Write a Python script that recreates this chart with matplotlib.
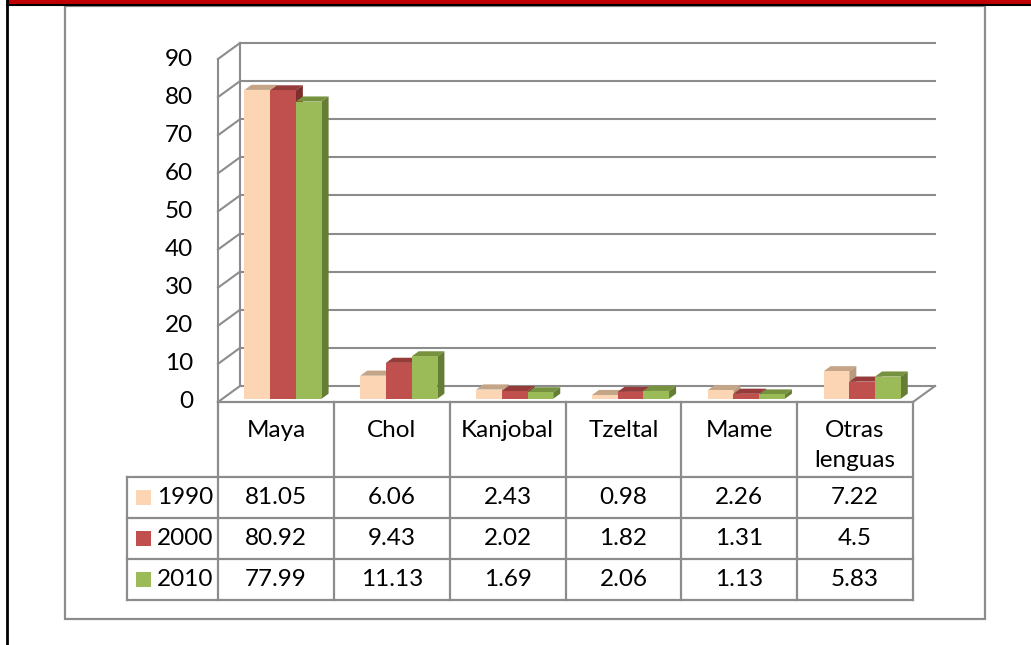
import matplotlib.pyplot as plt
from matplotlib.patches import Rectangle, Polygon

# data
categories = ['Maya', 'Chol', 'Kanjobal', 'Tzeltal', 'Mame', 'Otras\nlenguas']
years = ['1990', '2000', '2010']
vals_1990 = [81.05, 6.06, 2.43, 0.98, 2.26, 7.22]
vals_2000 = [80.92, 9.43, 2.02, 1.82, 1.31, 4.5]
vals_2010 = [77.99, 11.13, 1.69, 2.06, 1.13, 5.83]
yticks = list(range(0, 91, 10))

front_cols = ['#FCD5B5', '#C0504D', '#9BBB59']
top_cols = ['#C4A588', '#953B39', '#77923F']
side_cols = ['#B89A7E', '#7E2F2D', '#667D36']
grid_col = '#8C8C8C'

plt.rcParams['font.family'] = ['Lato', 'DejaVu Sans']
FS = 17.5

W, H = 1031, 645
fig = plt.figure(figsize=(W / 100, H / 100), dpi=100)


def fx(px):
    return px / W


def fy(py):
    return 1 - py / H


# page decoration: red band, black rules, gray chart frame
fig.patches.append(Rectangle((fx(8), fy(4)), 1 - fx(8), fy(0) - fy(4),
                             transform=fig.transFigure, fc='#C00000', ec='none'))
fig.add_artist(plt.Line2D([fx(7), 1], [fy(5), fy(5)], color='black', lw=1.5))
fig.add_artist(plt.Line2D([fx(7.3), fx(7.3)], [0, 1], color='black', lw=2))
fig.patches.append(Rectangle((fx(65), fy(619)), fx(985) - fx(65), fy(6) - fy(619),
                             transform=fig.transFigure, fc='none', ec=grid_col, lw=1.6))

# plot area (front plane)
x_left, x_right, y_base, y_top = 218, 913, 402, 59
ax = fig.add_axes([fx(x_left), fy(y_base), fx(x_right) - fx(x_left), fy(y_top) - fy(y_base)])
ax.set_xlim(0, len(categories))
ax.set_ylim(0, 90)
ax.axis('off')

n = len(categories)
DX = 22 / (x_right - x_left) * n
DY = 16 / (y_base - y_top) * 90

# walls and gridlines
for v in yticks:
    ax.plot([DX, n + DX], [v + DY, v + DY], color=grid_col, lw=1.5, clip_on=False, zorder=1)
    ax.plot([0, DX], [v, v + DY], color=grid_col, lw=1.5, clip_on=False, zorder=1)
    ax.text(-25 / (x_right - x_left) * n, v, str(v), ha='right', va='center', fontsize=FS)
ax.plot([DX, DX], [DY, 90 + DY], color=grid_col, lw=1.5, clip_on=False, zorder=1)
ax.plot([0, 0], [0, 90], color=grid_col, lw=1.5, clip_on=False, zorder=1)
ax.plot([n, n + DX], [0, DY], color=grid_col, lw=1.5, clip_on=False, zorder=1)

# 3D-looking bars
BW = 0.222
f0 = 0.2
bdx, bdy = 0.32 * DX, 0.32 * DY
series = [vals_1990, vals_2000, vals_2010]
z = 2
for i in range(n):
    for j, vals in enumerate(series):
        h = vals[i]
        x0 = i + 0.19 + j * BW + f0 * DX
        y0 = f0 * DY
        ax.add_patch(Polygon([(x0, y0 + h), (x0 + BW, y0 + h), (x0 + BW + bdx, y0 + h + bdy),
                              (x0 + bdx, y0 + h + bdy)], closed=True, fc=top_cols[j], ec='none',
                             zorder=z, clip_on=False))
        ax.add_patch(Polygon([(x0 + BW, y0), (x0 + BW + bdx, y0 + bdy), (x0 + BW + bdx, y0 + h + bdy),
                              (x0 + BW, y0 + h)], closed=True, fc=side_cols[j], ec='none',
                             zorder=z, clip_on=False))
        ax.add_patch(Rectangle((x0, y0), BW, h, fc=front_cols[j], ec='none', zorder=z + 1,
                               clip_on=False))
        z += 2

# data table below the chart
col_w = (x_right - x_left) / n
row_top, row_lab, row_h = 402, 477, 41
leg_left = 127
tl = dict(color=grid_col, lw=1.6)
fig.add_artist(plt.Line2D([fx(x_left), fx(x_right)], [fy(row_top), fy(row_top)], **tl))
for k in range(4):
    yy = row_lab + k * row_h
    fig.add_artist(plt.Line2D([fx(leg_left), fx(x_right)], [fy(yy), fy(yy)], **tl))
for c in range(n + 1):
    xx = x_left + c * col_w
    fig.add_artist(plt.Line2D([fx(xx), fx(xx)], [fy(row_top), fy(row_lab + 3 * row_h)], **tl))
fig.add_artist(plt.Line2D([fx(leg_left), fx(leg_left)], [fy(row_lab), fy(row_lab + 3 * row_h)], **tl))

for c, cat in enumerate(categories):
    cx = x_left + (c + 0.5) * col_w
    fig.text(fx(cx), fy(420), cat, ha='center', va='top', fontsize=FS, linespacing=1.55)
    for r, vals in enumerate(series):
        cy = row_lab + (r + 0.5) * row_h
        fig.text(fx(cx), fy(cy), f'{vals[c]:g}', ha='center', va='center', fontsize=FS)

for r, yr in enumerate(years):
    cy = row_lab + (r + 0.5) * row_h
    fig.patches.append(Rectangle((fx(136), fy(cy + 7.5)), fx(151) - fx(136), fy(cy - 7.5) - fy(cy + 7.5),
                                 transform=fig.transFigure, fc=front_cols[r], ec='none'))
    fig.text(fx(157), fy(cy), yr, ha='left', va='center', fontsize=FS)

fig.savefig('out.png', dpi=100)
